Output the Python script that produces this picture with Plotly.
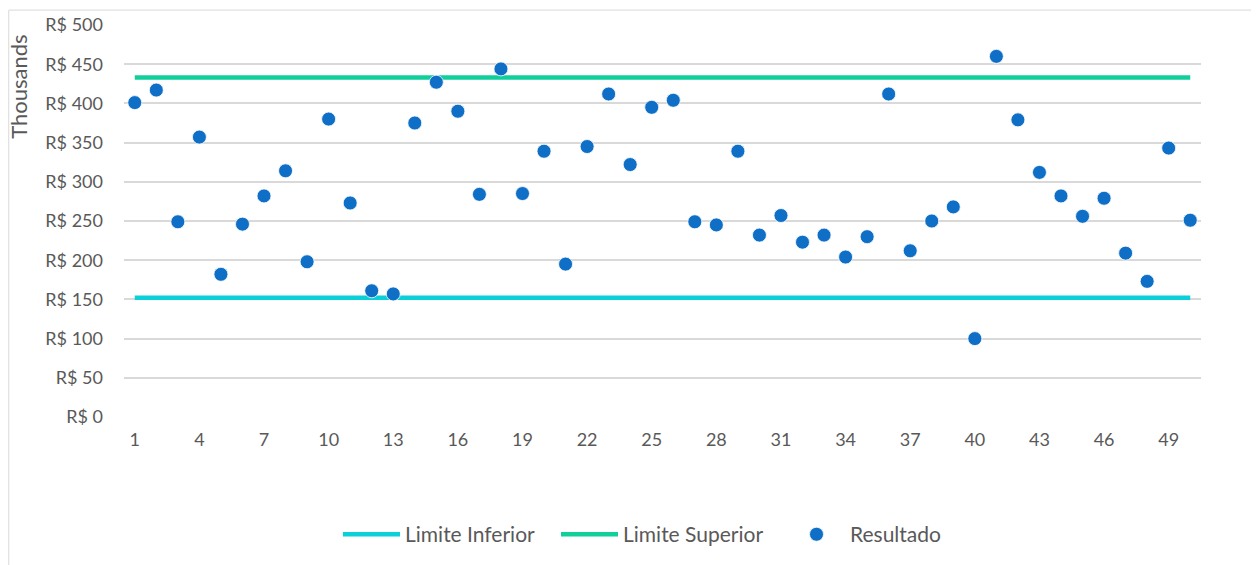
import plotly.graph_objects as go

amostras = list(range(1, 51))
resultado = [401, 417, 249, 357, 182, 246, 282, 314, 198, 380,
             273, 161, 157, 375, 427, 390, 284, 444, 285, 339,
             195, 345, 412, 322, 395, 404, 249, 245, 339, 232,
             257, 223, 232, 204, 230, 412, 212, 250, 268, 100,
             460, 379, 312, 282, 256, 279, 209, 173, 343, 251]
limite_inferior = 152
limite_superior = 433
y_ticks = [0, 50, 100, 150, 200, 250, 300, 350, 400, 450, 500]
y_labels = ["R$ %d" % v for v in y_ticks]
x_ticks = list(range(1, 51, 3))

FONT = "Lato"
GRAY = "#595959"

fig = go.Figure()
fig.add_trace(go.Scatter(x=amostras, y=[limite_inferior] * len(amostras), mode="lines",
                         name="Limite Inferior", line=dict(color="#0BD0D9", width=4.5),
                         legend="legend"))
fig.add_trace(go.Scatter(x=amostras, y=[limite_superior] * len(amostras), mode="lines",
                         name="Limite Superior", line=dict(color="#10CF9B", width=4.5),
                         legend="legend2"))
fig.add_trace(go.Scatter(x=amostras, y=resultado, mode="markers", name="Resultado",
                         marker=dict(color="#0F6FC6", size=14,
                                     line=dict(color="white", width=0.8)),
                         legend="legend3"))

PLOT_L, PLOT_W = 124, 1077


def leg(px):
    return dict(orientation="h", x=(px - PLOT_L) / PLOT_W, xanchor="left",
                y=-0.30, yanchor="middle", itemwidth=57,
                font=dict(family=FONT, size=21, color=GRAY),
                bgcolor="rgba(0,0,0,0)")


fig.update_layout(
    width=1251, height=557,
    margin=dict(l=116, r=58, t=17, b=148, autoexpand=False),
    paper_bgcolor="white", plot_bgcolor="white",
    font=dict(family=FONT, size=18, color=GRAY),
    showlegend=True,
    legend=leg(338), legend2=leg(556), legend3=leg(783),
    xaxis=dict(range=[0.5, 50.5], tickmode="array", tickvals=x_ticks,
               ticktext=[str(v) for v in x_ticks], showgrid=False, zeroline=False,
               showline=False, ticks="", ticklabelstandoff=10, automargin=False,
               tickfont=dict(family=FONT, size=18, color=GRAY)),
    yaxis=dict(range=[0, 500], tickmode="array", tickvals=y_ticks, ticktext=y_labels,
               showgrid=True, gridcolor="#D9D9D9", gridwidth=1.5, zeroline=False,
               showline=False, ticks="", ticklabelstandoff=20, automargin=False,
               tickfont=dict(family=FONT, size=18, color=GRAY)),
    shapes=[
        dict(type="line", xref="paper", yref="paper", x0=-0.107, x1=1.06,
             y0=1.038, y1=1.038, line=dict(color="#D9D9D9", width=1)),
        dict(type="line", xref="paper", yref="paper", x0=-0.107, x1=-0.107,
             y0=1.038, y1=-0.40, line=dict(color="#D9D9D9", width=1)),
    ],
    annotations=[
        dict(text="Thousands", xref="paper", yref="paper", x=-0.0975, y=0.98,
             xanchor="center", yanchor="top", textangle=-90, showarrow=False,
             font=dict(family=FONT, size=22, color=GRAY)),
    ],
)

fig.write_html("out.html")
